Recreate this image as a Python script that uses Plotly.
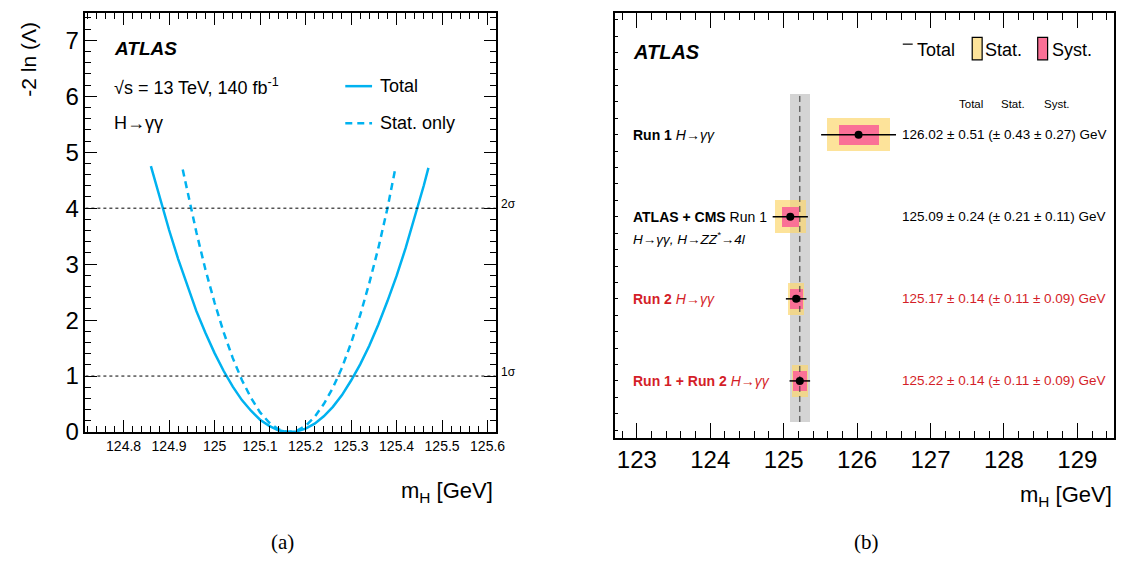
import plotly.graph_objects as go

W, H = 1124, 565

# ---------------- data: panel (a) likelihood scans ----------------
total_x = [124.86, 124.88, 124.90, 124.92, 124.94, 124.96, 124.98, 125.00, 125.02, 125.04,
           125.06, 125.08, 125.10, 125.12, 125.14, 125.16, 125.18, 125.20, 125.22, 125.24,
           125.26, 125.28, 125.30, 125.32, 125.34, 125.36, 125.38, 125.40, 125.42, 125.44,
           125.46, 125.47]
total_y = [4.75, 4.17, 3.61, 3.09, 2.61, 2.16, 1.77, 1.41, 1.09, 0.81,
           0.57, 0.38, 0.22, 0.11, 0.03, 0.00, 0.01, 0.06, 0.15, 0.28,
           0.45, 0.66, 0.92, 1.21, 1.54, 1.92, 2.34, 2.79, 3.29, 3.83,
           4.41, 4.72]
stat_x = [124.93, 124.94, 124.96, 124.98, 125.00, 125.02, 125.04, 125.06, 125.08, 125.10,
          125.12, 125.14, 125.16, 125.18, 125.20, 125.22, 125.24, 125.26, 125.28, 125.30,
          125.32, 125.34, 125.36, 125.38, 125.397]
stat_y = [4.69, 4.30, 3.57, 2.90, 2.31, 1.78, 1.32, 0.93, 0.61, 0.35,
          0.17, 0.05, 0.00, 0.02, 0.11, 0.27, 0.50, 0.79, 1.15, 1.59,
          2.09, 2.66, 3.29, 4.00, 4.70]
sigma_levels = [1, 4]
sigma_labels = ["1σ", "2σ"]
xa_ticks = [124.8, 124.9, 125.0, 125.1, 125.2, 125.3, 125.4, 125.5, 125.6]
xa_ticktext = ["124.8", "124.9", "125", "125.1", "125.2", "125.3", "125.4", "125.5", "125.6"]
ya_ticks = [0, 1, 2, 3, 4, 5, 6, 7]

# ---------------- data: panel (b) mass summary ----------------
rows = [4, 3, 2, 1]
mass = [126.02, 125.09, 125.17, 125.22]
err_total = [0.51, 0.24, 0.14, 0.14]
err_stat = [0.43, 0.21, 0.11, 0.11]
err_syst = [0.27, 0.11, 0.09, 0.09]
row_labels = ["<b>Run 1</b> <i>H→γγ</i>",
              "<b>ATLAS + CMS</b> Run 1",
              "<b>Run 2</b> <i>H→γγ</i>",
              "<b>Run 1 + Run 2</b> <i>H→γγ</i>"]
row_sublabels = ["", "<i>H→γγ, H→ZZ<sup>*</sup>→4l</i>", "", ""]
row_red = [False, False, True, True]
ref_mass = 125.22
ref_err = 0.14
xb_ticks = [123, 124, 125, 126, 127, 128, 129]

BLUE = "#00b2f0"
YELLOW = "rgba(252,215,111,0.7)"
PINK = "#fa7096"
RED = "#d41e28"
FONT = "Liberation Sans, Arial, sans-serif"
SERIF = "Liberation Serif, Times New Roman, serif"


def px(x):
    return x / W


def py(y):
    return 1 - y / H


fig = go.Figure()

# panel (a)
fig.add_trace(go.Scatter(x=total_x, y=total_y, mode="lines", line=dict(color=BLUE, width=2.5),
                         xaxis="x", yaxis="y", showlegend=False, hoverinfo="skip"))
fig.add_trace(go.Scatter(x=stat_x, y=stat_y, mode="lines",
                         line=dict(color=BLUE, width=2.5, dash="7px,5px"),
                         xaxis="x", yaxis="y", showlegend=False, hoverinfo="skip"))
for lv in sigma_levels:
    fig.add_trace(go.Scatter(x=[124.716, 125.618], y=[lv, lv], mode="lines",
                             line=dict(color="black", width=1, dash="dot"),
                             xaxis="x", yaxis="y", showlegend=False, hoverinfo="skip"))

# panel (b)
fig.add_trace(go.Bar(y=[sum(rows) / len(rows)], x=[2 * ref_err], base=[ref_mass - ref_err],
                     width=[len(rows)], orientation="h", marker=dict(color="#d4d4d4", line=dict(width=0)),
                     xaxis="x2", yaxis="y2", showlegend=False, hoverinfo="skip"))
fig.add_trace(go.Scatter(x=[ref_mass, ref_mass], y=[min(rows) - 0.5, max(rows) + 0.5], mode="lines",
                         line=dict(color="#333333", width=1, dash="6px,4px"),
                         xaxis="x2", yaxis="y2", showlegend=False, hoverinfo="skip"))
fig.add_trace(go.Bar(y=rows, x=[2 * s for s in err_stat], base=[m - s for m, s in zip(mass, err_stat)],
                     width=0.4, orientation="h", marker=dict(color=YELLOW, line=dict(width=0)),
                     xaxis="x2", yaxis="y2", showlegend=False, hoverinfo="skip"))
fig.add_trace(go.Bar(y=rows, x=[2 * s for s in err_syst], base=[m - s for m, s in zip(mass, err_syst)],
                     width=0.25, orientation="h", marker=dict(color=PINK, line=dict(width=0)),
                     xaxis="x2", yaxis="y2", showlegend=False, hoverinfo="skip"))
fig.add_trace(go.Scatter(x=mass, y=rows, mode="markers",
                         marker=dict(color="black", size=8),
                         error_x=dict(type="data", array=err_total, color="black", thickness=1.5, width=0),
                         xaxis="x2", yaxis="y2", showlegend=False, hoverinfo="skip"))

ann = []
shapes = []

# panel (a) texts
ann.append(dict(x=px(105), y=py(41), text="<b><i>ATLAS</i></b>", font=dict(size=19)))
ann.append(dict(x=px(105), y=py(80), text="√s = 13 TeV, 140 fb<sup>-1</sup>", font=dict(size=18)))
ann.append(dict(x=px(105), y=py(118), text="H→γγ", font=dict(size=18)))
ann.append(dict(x=px(373), y=py(80), text="Total", font=dict(size=18)))
ann.append(dict(x=px(373), y=py(118), text="Stat. only", font=dict(size=18)))
shapes.append(dict(type="line", xref="paper", yref="paper", x0=px(340), x1=px(367), y0=py(80), y1=py(80),
                   line=dict(color=BLUE, width=2.5)))
shapes.append(dict(type="line", xref="paper", yref="paper", x0=px(340), x1=px(367), y0=py(118), y1=py(118),
                   line=dict(color=BLUE, width=2.5, dash="7px,5px")))
for lv, lab in zip(sigma_levels, sigma_labels):
    ann.append(dict(x=125.618, xref="x", y=lv, yref="y", xshift=3, yshift=4, text=lab,
                    font=dict(size=12), xanchor="left"))
ann.append(dict(x=px(21), y=py(52), text="-2 ln (Λ)", textangle=-90, font=dict(size=21),
                xanchor="center", yanchor="middle"))
ann.append(dict(x=px(491), y=py(495), text="m<sub>H</sub> [GeV]", font=dict(size=22), xanchor="right"))
ann.append(dict(x=px(277), y=py(547), text="(a)", font=dict(size=21, family=SERIF), xanchor="center"))

# panel (b) texts
ann.append(dict(x=px(628), y=py(45), text="<b><i>ATLAS</i></b>", font=dict(size=20)))
shapes.append(dict(type="line", xref="paper", yref="paper", x0=px(902), x1=px(912), y0=py(37), y1=py(37),
                   line=dict(color="black", width=1.2)))
ann.append(dict(x=px(914), y=py(43), text="Total", font=dict(size=18)))
shapes.append(dict(type="rect", xref="paper", yref="paper", x0=px(972), x1=px(982), y0=py(53), y1=py(30),
                   fillcolor="#fde39a", line=dict(color="black", width=1.2)))
ann.append(dict(x=px(983), y=py(43), text="Stat.", font=dict(size=18)))
shapes.append(dict(type="rect", xref="paper", yref="paper", x0=px(1038), x1=px(1048), y0=py(53), y1=py(30),
                   fillcolor=PINK, line=dict(color="black", width=1.2)))
ann.append(dict(x=px(1050), y=py(43), text="Syst.", font=dict(size=18)))
for hx, ht in zip([971, 1013, 1057], ["Total", "Stat.", "Syst."]):
    ann.append(dict(x=px(hx), y=py(98), text=ht, font=dict(size=11.5), xanchor="center"))

for r, lab, sub, m, t, s, y_, red in zip(rows, row_labels, row_sublabels, mass, err_total, err_stat,
                                         err_syst, row_red):
    col = RED if red else "black"
    ann.append(dict(x=px(628), y=r, yref="y2", text=lab, font=dict(size=14, color=col)))
    if sub:
        ann.append(dict(x=px(628), y=r, yref="y2", yshift=-21, text=sub, font=dict(size=13.5, color=col)))
    ann.append(dict(x=px(899), y=r, yref="y2",
                    text=f"{m:.2f} ± {t:.2f} (± {s:.2f} ± {y_:.2f}) GeV",
                    font=dict(size=13.5, color=col)))
ann.append(dict(x=px(1115), y=py(500), text="m<sub>H</sub> [GeV]", font=dict(size=22), xanchor="right"))
ann.append(dict(x=px(865), y=py(547), text="(b)", font=dict(size=21, family=SERIF), xanchor="center"))

for a in ann:
    a.setdefault("xref", "paper")
    a.setdefault("yref", "paper")
    a.setdefault("xanchor", "left")
    a.setdefault("yanchor", "middle")
    a["showarrow"] = False
    a["font"].setdefault("color", "black")
    a["font"].setdefault("family", FONT)

axis_common = dict(showline=True, linecolor="black", linewidth=1.5, mirror="allticks", ticks="inside",
                   showgrid=False, zeroline=False, tickcolor="black", tickwidth=1)

fig.update_layout(
    width=W, height=H, margin=dict(l=0, r=0, t=0, b=0),
    paper_bgcolor="white", plot_bgcolor="white",
    barmode="overlay", bargap=0,
    showlegend=False,
    font=dict(family=FONT, color="black"),
    xaxis=dict(domain=[px(78), px(491.7)], range=[124.716, 125.618], anchor="y",
               tickvals=xa_ticks, ticktext=xa_ticktext, ticklen=12,
               minor=dict(dtick=0.02, tick0=124.8, ticklen=6, ticks="inside", tickcolor="black"),
               tickfont=dict(family=FONT, color="black", size=14), **axis_common),
    yaxis=dict(domain=[py(434), py(5)], range=[0, 7.49], anchor="x",
               tickvals=ya_ticks, ticklen=12,
               minor=dict(dtick=0.2, tick0=0, ticklen=6, ticks="inside", tickcolor="black"),
               tickfont=dict(family=FONT, color="black", size=24), **axis_common),
    xaxis2=dict(domain=[px(611.7), px(1115)], range=[122.7, 129.5], anchor="y2",
                tickvals=xb_ticks, ticklen=15,
                minor=dict(dtick=0.2, tick0=123, ticklen=7, ticks="inside", tickcolor="black"),
                tickfont=dict(family=FONT, color="black", size=24), **axis_common),
    yaxis2=dict(domain=[py(440), py(5)], range=[0.306, 5.484], anchor="x2",
                showline=True, linecolor="black", linewidth=1.5, mirror=True,
                showticklabels=False, ticks="inside", ticklen=3, tickcolor="black", tickwidth=1,
                tick0=0, dtick=0.2, showgrid=False, zeroline=False),
    annotations=ann,
    shapes=shapes,
)

fig.write_html("out.html")
